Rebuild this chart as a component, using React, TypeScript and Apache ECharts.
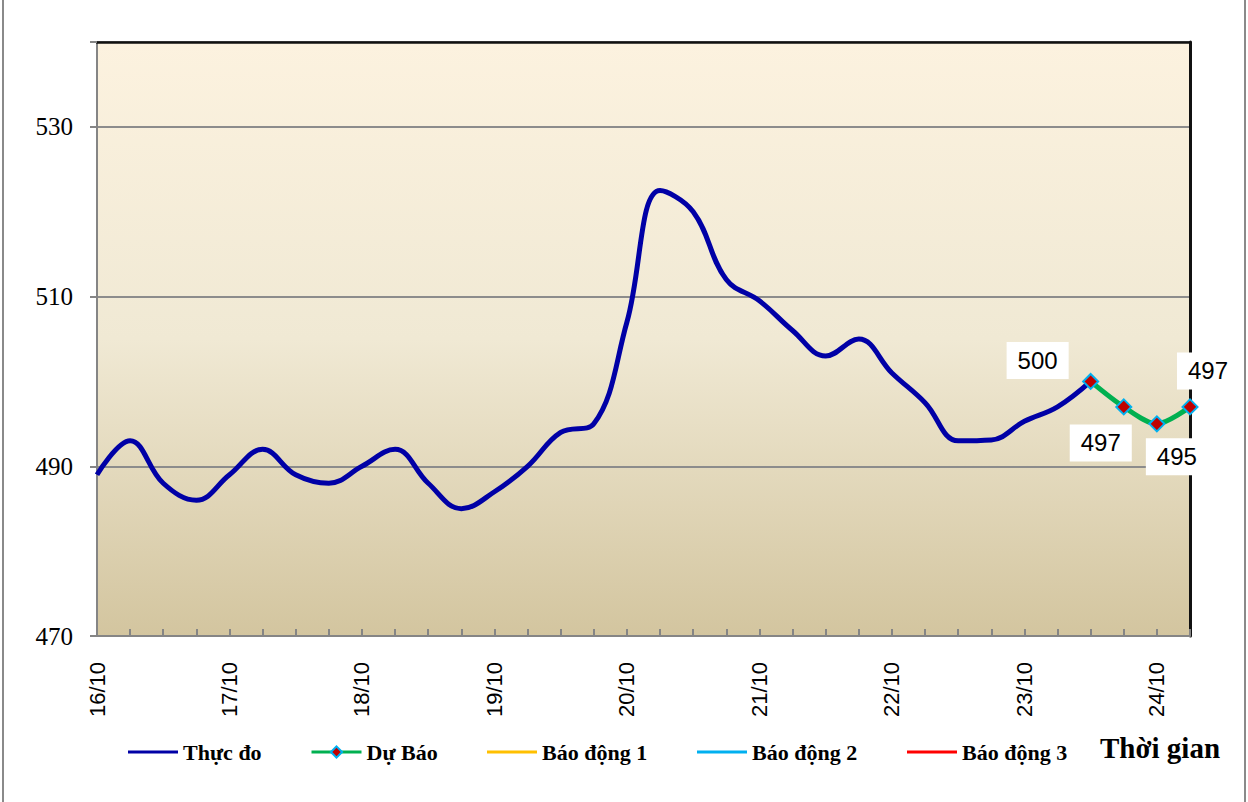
import React, { useEffect, useRef } from "react";
import * as echarts from "echarts";

const categories = [
  "16/10 00h", "16/10 06h", "16/10 12h", "16/10 18h",
  "17/10 00h", "17/10 06h", "17/10 12h", "17/10 18h",
  "18/10 00h", "18/10 06h", "18/10 12h", "18/10 18h",
  "19/10 00h", "19/10 06h", "19/10 12h", "19/10 18h",
  "20/10 00h", "20/10 06h", "20/10 12h", "20/10 18h",
  "21/10 00h", "21/10 06h", "21/10 12h", "21/10 18h",
  "22/10 00h", "22/10 06h", "22/10 12h", "22/10 18h",
  "23/10 00h", "23/10 06h", "23/10 12h", "23/10 18h",
  "24/10 00h", "24/10 06h",
];

const thucDo = [
  489, 493, 488, 486, 489, 492, 489, 488,
  490, 492, 488, 485, 487, 490, 494, 495,
  507, 522.5, 520, 512, 509.5, 506, 503, 505,
  501, 497.5, 493, 493.1, 495.3, 497, 500, null, null, null,
];

const duBao = [
  null, null, null, null, null, null, null, null,
  null, null, null, null, null, null, null, null,
  null, null, null, null, null, null, null, null,
  null, null, null, null, null, null, 500, 497, 495, 497,
];

const baoDong1: (number | null)[] = [];
const baoDong2: (number | null)[] = [];
const baoDong3: (number | null)[] = [];

const forecastLabelOffsets: Record<number, [number, number]> = {
  30: [-53, -21],
  31: [-23, 36],
  32: [20, 33],
  33: [18, -36],
};

const yTicks = { min: 470, max: 540, interval: 20 };

export default function App() {
  const ref = useRef<HTMLDivElement>(null);

  useEffect(() => {
    if (!ref.current) return;
    const chart = echarts.init(ref.current, null, { renderer: "svg" });

    const legendText = {
      fontFamily: "Liberation Serif",
      fontWeight: "bold" as const,
      fontSize: 22,
      color: "#000",
    };
    const mkLegend = (name: string, left: number, plainLine: boolean) => ({
      data: plainLine ? [{ name, icon: "rect" }] : [name],
      left,
      top: 741,
      padding: 0,
      itemWidth: 50,
      itemHeight: plainLine ? 3 : 14,
      itemGap: 5,
      textStyle: legendText,
      lineStyle: { width: 3 },
      selectedMode: false,
    });

    const duBaoData = duBao.map((v, i) => {
      if (v === null) return null;
      const off = forecastLabelOffsets[i];
      return {
        value: v,
        label: {
          show: true,
          position: "inside",
          offset: off,
        },
      };
    });

    chart.setOption({
      animation: false,
      backgroundColor: "#ffffff",
      grid: {
        left: 97,
        top: 42,
        right: 58,
        bottom: 166,
        show: true,
        borderWidth: 0,
        backgroundColor: new echarts.graphic.LinearGradient(0, 0, 0, 1, [
          { offset: 0, color: "#FCF2DF" },
          { offset: 0.5, color: "#F0E9D4" },
          { offset: 1, color: "#D3C59F" },
        ]),
      },
      legend: [
        mkLegend("Thực đo", 128, true),
        mkLegend("Dự Báo", 310, false),
        mkLegend("Báo động 1", 487, true),
        mkLegend("Báo động 2", 697, true),
        mkLegend("Báo động 3", 907, true),
      ],
      graphic: [
        {
          type: "text",
          left: 1100,
          top: 733,
          style: {
            text: "Thời gian",
            fontFamily: "Liberation Serif",
            fontWeight: "bold",
            fontSize: 29,
            fill: "#000",
          },
        },
        {
          type: "line",
          shape: { x1: 3, y1: 0, x2: 3, y2: 802 },
          style: { stroke: "#8a8a8a", lineWidth: 2 },
        },
        {
          type: "line",
          shape: { x1: 1245, y1: 0, x2: 1245, y2: 802 },
          style: { stroke: "#8a8a8a", lineWidth: 2 },
        },
      ],
      xAxis: [
        {
          type: "category",
          data: categories,
          boundaryGap: false,
          axisLine: { lineStyle: { color: "#858585", width: 2 } },
          axisTick: {
            show: true,
            inside: true,
            length: 7,
            interval: 0,
            lineStyle: { color: "#858585", width: 2 },
          },
          axisLabel: {
            interval: 3,
            rotate: 90,
            margin: 26,
            fontFamily: "Liberation Sans",
            fontSize: 22,
            color: "#000",
            formatter: (v: string) => v.split(" ")[0],
          },
          splitLine: { show: false },
        },
        {
          type: "category",
          data: categories,
          boundaryGap: false,
          position: "top",
          axisLine: { lineStyle: { color: "#111", width: 2.5 } },
          axisTick: { show: false },
          axisLabel: { show: false },
        },
      ],
      yAxis: [
        {
          type: "value",
          min: yTicks.min,
          max: yTicks.max,
          interval: yTicks.interval,
          axisLine: { show: true, lineStyle: { color: "#858585", width: 2 } },
          axisTick: {
            show: true,
            length: 7,
            lineStyle: { color: "#858585", width: 2 },
          },
          axisLabel: {
            margin: 24,
            fontFamily: "Liberation Serif",
            fontSize: 25,
            color: "#000",
            formatter: (v: number) => (v === yTicks.max ? "" : String(v)),
          },
          splitLine: {
            show: true,
            lineStyle: { color: "#8c8c8c", width: 2 },
          },
        },
        {
          type: "value",
          min: yTicks.min,
          max: yTicks.max,
          interval: yTicks.interval,
          position: "right",
          axisLine: { show: true, lineStyle: { color: "#111", width: 3 } },
          axisTick: { show: false },
          axisLabel: { show: false },
          splitLine: { show: false },
        },
      ],
      series: [
        {
          name: "Thực đo",
          type: "line",
          data: thucDo,
          smooth: 0.4,
          symbol: "none",
          lineStyle: { color: "#0000A6", width: 5 },
          itemStyle: { color: "#0000A6" },
          z: 3,
        },
        {
          name: "Dự Báo",
          type: "line",
          data: duBaoData,
          smooth: 0.3,
          symbol: "diamond",
          symbolSize: 15,
          showAllSymbol: true,
          lineStyle: { color: "#00B050", width: 5 },
          itemStyle: { color: "#C00000", borderColor: "#00B0F0", borderWidth: 2 },
          label: {
            show: true,
            fontFamily: "Liberation Sans",
            fontSize: 24,
            color: "#000",
            backgroundColor: "#ffffff",
            padding: [7, 11, 6, 11],
          },
          z: 4,
        },
        {
          name: "Báo động 1",
          type: "line",
          data: baoDong1,
          symbol: "none",
          lineStyle: { color: "#FFC000", width: 3 },
          itemStyle: { color: "#FFC000" },
        },
        {
          name: "Báo động 2",
          type: "line",
          data: baoDong2,
          symbol: "none",
          lineStyle: { color: "#00B0F0", width: 3 },
          itemStyle: { color: "#00B0F0" },
        },
        {
          name: "Báo động 3",
          type: "line",
          data: baoDong3,
          symbol: "none",
          lineStyle: { color: "#FF0000", width: 3 },
          itemStyle: { color: "#FF0000" },
        },
      ],
    });

    return () => chart.dispose();
  }, []);

  return (
    <div
      ref={ref}
      style={{ position: "fixed", left: 0, top: 0, width: 1248, height: 802 }}
    />
  );
}
